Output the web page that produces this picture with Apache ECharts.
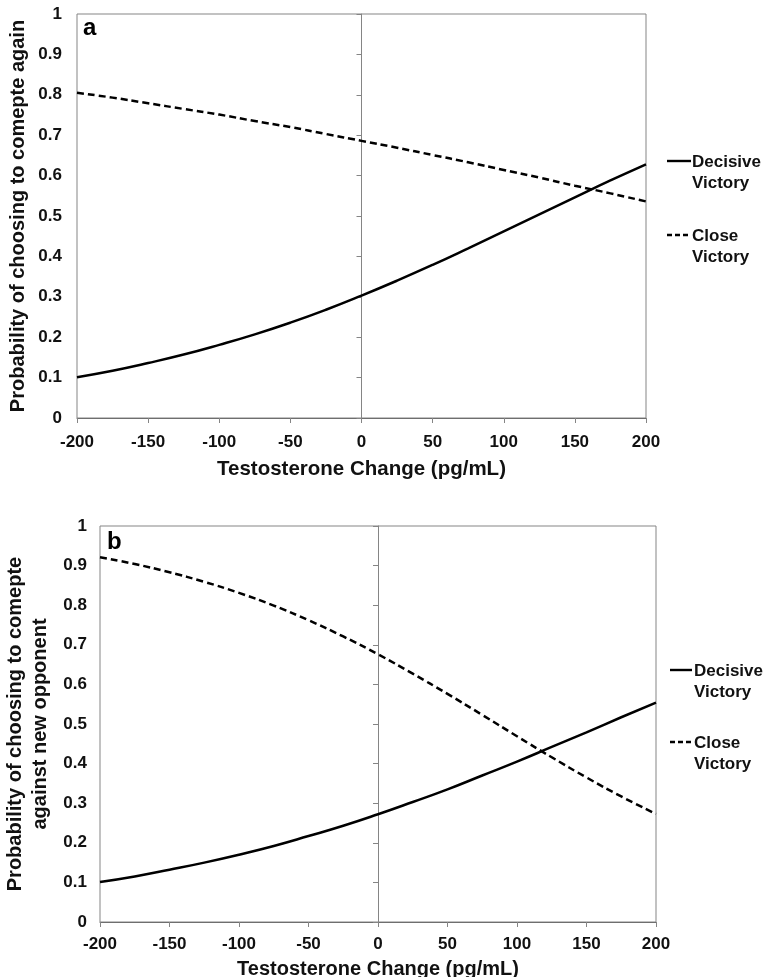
<!DOCTYPE html>
<html>
<head>
<meta charset="utf-8">
<script src="https://cdn.jsdelivr.net/npm/echarts@6/dist/echarts.min.js"></script>
<style>
html,body{margin:0;padding:0;background:#fff;}
#chart{width:764px;height:977px;}
</style>
</head>
<body>
<div id="chart"></div>
<script>
// Data
const xValues = [-200,-175,-150,-125,-100,-75,-50,-25,0,25,50,75,100,125,150,175,200];
const xTicks = [-200,-150,-100,-50,0,50,100,150,200];
const yTicks = [0,0.1,0.2,0.3,0.4,0.5,0.6,0.7,0.8,0.9,1];
const decisiveA = [0.101,0.117,0.136,0.157,0.181,0.207,0.236,0.268,0.303,0.340,0.379,0.420,0.462,0.504,0.546,0.588,0.628];
const closeA    = [0.805,0.793,0.779,0.765,0.751,0.735,0.720,0.703,0.686,0.669,0.651,0.633,0.614,0.595,0.575,0.556,0.536];
const decisiveB = [0.101,0.115,0.132,0.150,0.170,0.192,0.217,0.243,0.272,0.303,0.335,0.370,0.405,0.442,0.479,0.517,0.554];
const closeB    = [0.921,0.904,0.883,0.859,0.831,0.799,0.762,0.721,0.676,0.627,0.576,0.523,0.469,0.416,0.365,0.317,0.273];
const seriesNames = ['Decisive\nVictory','Close\nVictory'];
const panelLabels = ['a','b'];
const xTitle = 'Testosterone Change (pg/mL)';
const yTitleA = 'Probability of choosing to comepte again';
const yTitleB = 'Probability of choosing to comepte\nagainst new opponent';

const FONT = '"Liberation Sans", Arial, sans-serif';
const TXT = '#111';
const GRAY = '#858585';
const pairs = (arr) => xValues.map((x, i) => [x, arr[i]]);

function xAxisDef(gridIndex, labelMargin, nameGap, nameSize) {
  return {
    type: 'value', gridIndex: gridIndex,
    min: xTicks[0], max: xTicks[xTicks.length - 1], interval: xTicks[1] - xTicks[0],
    name: xTitle, nameLocation: 'middle', nameGap: nameGap, nameMoveOverlap: false,
    nameTextStyle: {fontFamily: FONT, fontWeight: 'bold', fontSize: nameSize, color: TXT},
    axisLine: {show: true, onZero: false, lineStyle: {color: '#6e6e6e', width: 1}},
    axisTick: {show: true, inside: false, length: 5, lineStyle: {color: GRAY}},
    axisLabel: {fontFamily: FONT, fontWeight: 'bold', fontSize: 17, color: TXT, margin: labelMargin},
    splitLine: {show: false}
  };
}
function yLabelAxis(gridIndex, name, labelMargin, nameGap) {
  return {
    type: 'value', gridIndex: gridIndex, position: 'left',
    min: yTicks[0], max: yTicks[yTicks.length - 1], interval: yTicks[1] - yTicks[0],
    name: name, nameLocation: 'middle', nameGap: nameGap, nameMoveOverlap: false,
    nameTextStyle: {fontFamily: FONT, fontWeight: 'bold', fontSize: 20, color: TXT, lineHeight: 25},
    axisLine: {show: false, onZero: false},
    axisTick: {show: false},
    axisLabel: {fontFamily: FONT, fontWeight: 'bold', fontSize: 17, color: TXT, margin: labelMargin, padding: [3, 0, 0, 0]},
    splitLine: {show: false}
  };
}
function yZeroAxis(gridIndex) {
  return {
    type: 'value', gridIndex: gridIndex, position: 'left',
    min: yTicks[0], max: yTicks[yTicks.length - 1], interval: yTicks[1] - yTicks[0],
    axisLine: {show: true, onZero: true, lineStyle: {color: GRAY, width: 1}},
    axisTick: {show: true, inside: false, length: 5, lineStyle: {color: GRAY}},
    axisLabel: {show: false},
    splitLine: {show: false}
  };
}
function lineSeries(name, xi, yi, data, dashed) {
  return {
    type: 'line', name: name, xAxisIndex: xi, yAxisIndex: yi,
    data: pairs(data), smooth: true, showSymbol: false, symbol: 'none',
    lineStyle: {color: '#000', width: 2.5, type: dashed ? [7, 4] : 'solid'},
    silent: true, animation: false
  };
}
function legendItems(lineX1, lineX2, textX, y1, y2) {
  const els = [];
  [[y1, false], [y2, true]].forEach(([y, dashed], i) => {
    els.push({type: 'line', shape: {x1: lineX1, y1: y, x2: lineX2, y2: y},
      style: {stroke: '#000', lineWidth: 2.4, lineDash: dashed ? [5, 3] : null}});
    els.push({type: 'text', left: textX, top: y - 9,
      style: {text: seriesNames[i], fontFamily: FONT, fontWeight: 'bold', fontSize: 17, lineHeight: 21, fill: TXT}});
  });
  return els;
}

const chart = echarts.init(document.getElementById('chart'), null, {renderer: 'canvas'});
chart.setOption({
  backgroundColor: '#fff',
  animation: false,
  grid: [
    {left: 77, right: 118, top: 14, height: 404, show: true, borderColor: GRAY, borderWidth: 1, backgroundColor: 'transparent', containLabel: false, outerBoundsMode: 'none'},
    {left: 100, right: 108, top: 526, height: 396, show: true, borderColor: GRAY, borderWidth: 1, backgroundColor: 'transparent', containLabel: false, outerBoundsMode: 'none'}
  ],
  xAxis: [xAxisDef(0, 16, 41, 20.5), xAxisDef(1, 14, 37, 20)],
  yAxis: [yLabelAxis(0, yTitleA, 15, 46), yZeroAxis(0), yLabelAxis(1, yTitleB, 13, 47), yZeroAxis(1)],
  series: [
    lineSeries(seriesNames[0], 0, 0, decisiveA, false),
    lineSeries(seriesNames[1], 0, 0, closeA, true),
    lineSeries(seriesNames[0], 1, 2, decisiveB, false),
    lineSeries(seriesNames[1], 1, 2, closeB, true)
  ],
  graphic: [
    {type: 'text', left: 83, top: 16, style: {text: panelLabels[0], fontFamily: FONT, fontWeight: 'bold', fontSize: 24, fill: '#000'}},
    {type: 'text', left: 107, top: 530, style: {text: panelLabels[1], fontFamily: FONT, fontWeight: 'bold', fontSize: 24, fill: '#000'}}
  ].concat(legendItems(667, 691, 692, 161, 235), legendItems(670, 692, 694, 670, 742))
});
</script>
</body>
</html>
